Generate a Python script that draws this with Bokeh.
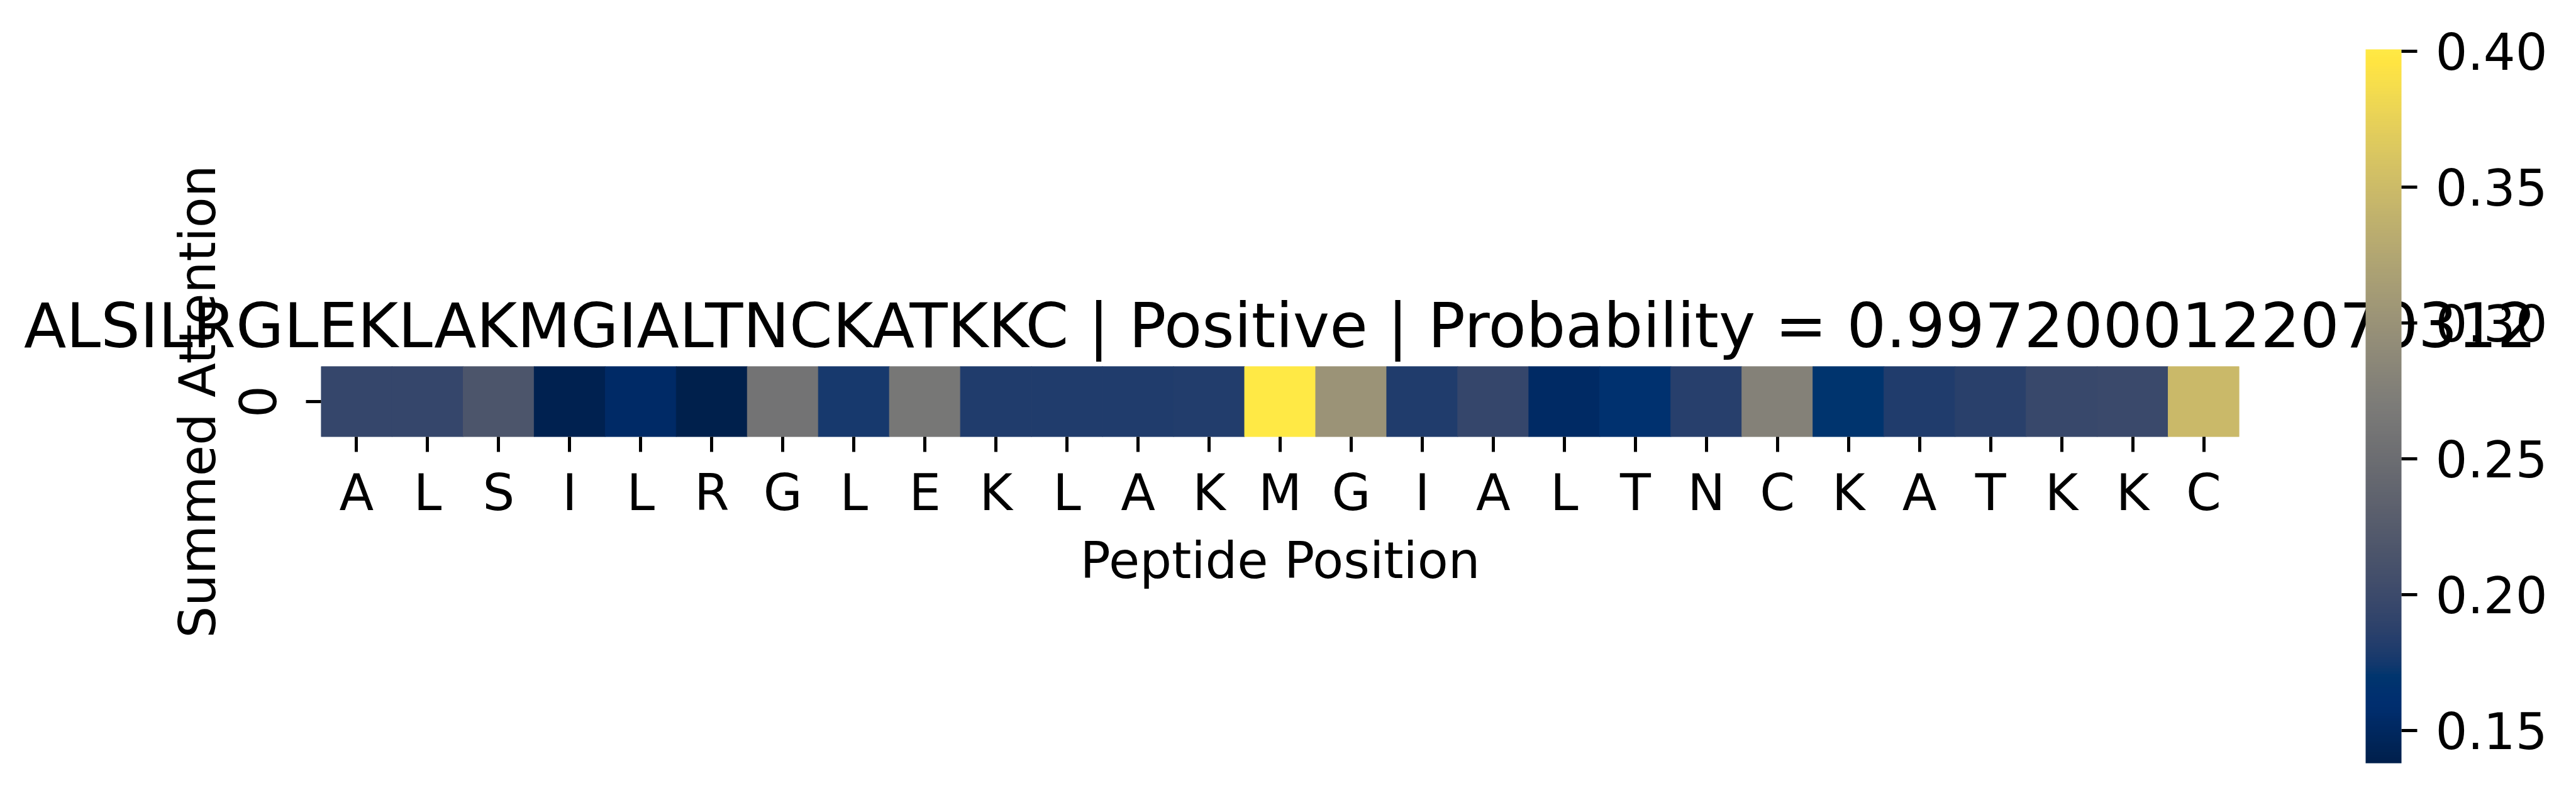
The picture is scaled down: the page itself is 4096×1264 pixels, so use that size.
from bokeh.plotting import figure
from bokeh.models import (Range1d, FixedTicker, CustomJSTickFormatter, ColorBar, LinearAxis,
                          LinearColorMapper, PrintfTickFormatter, ColumnDataSource)
from bokeh.palettes import Cividis256
from bokeh.embed import file_html
from bokeh.resources import INLINE

# ---- data ----
sequence = "ALSILRGLEKLAKMGIALTNCKATKKC"
residues = list(sequence)
row_labels = ["0"]
attention = [0.194, 0.194, 0.215, 0.141, 0.154, 0.138, 0.259, 0.176, 0.264,
             0.181, 0.181, 0.181, 0.182, 0.4006, 0.302, 0.181, 0.194, 0.153,
             0.164, 0.185, 0.278, 0.168, 0.181, 0.186, 0.197, 0.198, 0.348]
label_text = "Positive"
probability = "0.9972000122070312"
cbar_ticks = [0.15, 0.20, 0.25, 0.30, 0.35, 0.40]
x_title = "Peptide Position"
y_title = "Summed Attention"

FONT = "DejaVu Sans"
TICK_FS = "80px"
TITLE_FS = "98.5px"

W, H = 4080, 1248
BL, BR, BT, BB = 510, 520, 582, 554

n = len(residues)
positions = list(range(n))

mapper = LinearColorMapper(palette=Cividis256, low=min(attention), high=max(attention))

p = figure(width=W, height=H,
           x_range=Range1d(-0.5, n - 0.5), y_range=Range1d(-0.5, 0.5),
           output_backend="svg", toolbar_location=None,
           min_border_left=BL, min_border_right=BR,
           min_border_top=BT, min_border_bottom=BB)
p.title.visible = False
p.outline_line_color = None
p.grid.visible = False
p.background_fill_color = "white"
p.border_fill_color = "white"

src = ColumnDataSource(dict(x=positions, y=[0] * n, v=attention))
p.rect(x="x", y="y", width=1, height=1, source=src,
       fill_color={"field": "v", "transform": mapper},
       line_color={"field": "v", "transform": mapper}, line_width=1)

# axes
for ax in (p.xaxis[0], p.yaxis[0]):
    ax.axis_line_color = None
    ax.major_tick_in = 0
    ax.major_tick_out = 24
    ax.major_tick_line_width = 5
    ax.major_tick_line_color = "black"
    ax.minor_tick_line_color = None
    ax.major_label_text_font = FONT
    ax.major_label_text_font_size = TICK_FS
    ax.major_label_text_color = "black"
    ax.axis_label_text_font = FONT
    ax.axis_label_text_font_size = TICK_FS
    ax.axis_label_text_font_style = "normal"
    ax.axis_label_text_color = "black"

p.xaxis.ticker = FixedTicker(ticks=positions)
p.xaxis.formatter = CustomJSTickFormatter(args=dict(labels=residues),
                                          code="return labels[Math.round(tick)];")
p.xaxis.axis_label = x_title
p.xaxis.major_label_standoff = 18
p.xaxis.axis_label_standoff = 12

p.yaxis.ticker = FixedTicker(ticks=[0])
p.yaxis.formatter = CustomJSTickFormatter(args=dict(labels=row_labels),
                                          code="return labels[Math.round(tick)];")
p.yaxis.major_label_orientation = "vertical"
p.yaxis.axis_label = y_title
p.yaxis.major_label_standoff = 48
p.yaxis.axis_label_standoff = 16

# title, drawn as the label of a tick-less axis above the heatmap
title_axis = LinearAxis(ticker=FixedTicker(ticks=[]),
                        axis_label=f"{sequence} | {label_text} | Probability = {probability}",
                        axis_line_color=None, major_tick_line_color=None,
                        minor_tick_line_color=None, major_tick_in=0, major_tick_out=0,
                        minor_tick_in=0, minor_tick_out=0, major_label_standoff=0,
                        major_label_text_font_size="1px",
                        axis_label_text_font=FONT, axis_label_text_font_size=TITLE_FS,
                        axis_label_text_font_style="normal", axis_label_text_color="black",
                        axis_label_standoff=8)
p.add_layout(title_axis, "above")

cb = ColorBar(color_mapper=mapper, location=(3251, -519), width=57, height=1135,
              padding=0, orientation="vertical",
              ticker=FixedTicker(ticks=cbar_ticks),
              formatter=PrintfTickFormatter(format="%.2f"),
              major_label_text_font=FONT, major_label_text_font_size=TICK_FS,
              major_label_text_color="black",
              major_tick_in=0, major_tick_out=25, major_tick_line_color="black",
              major_tick_line_width=5, minor_tick_line_color=None,
              label_standoff=29, bar_line_color=None, border_line_color=None,
              background_fill_color=None)
p.add_layout(cb)

open("out.html", "w").write(file_html(p, INLINE))
